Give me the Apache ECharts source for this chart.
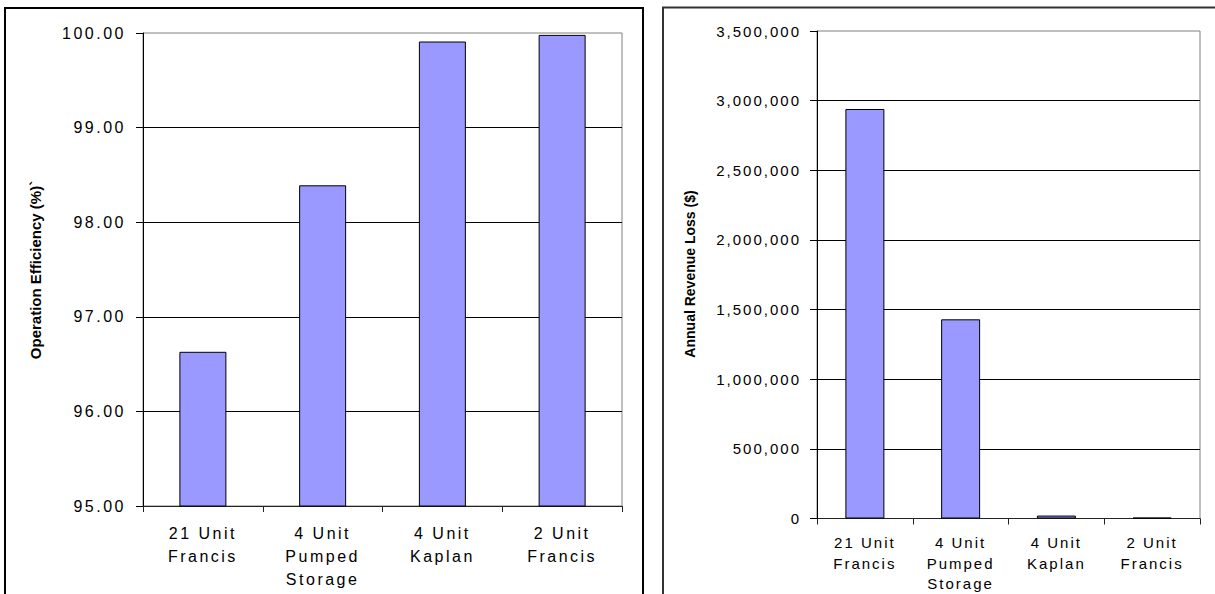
<!DOCTYPE html>
<html><head><meta charset="utf-8">
<script src="https://cdn.jsdelivr.net/npm/echarts@6/dist/echarts.min.js"></script>
<style>
html,body{margin:0;padding:0;background:#fff;}
#chart{width:1215px;height:594px;}
#chart svg text{letter-spacing:2.5px;}
#chart svg text[style*="15px"]{letter-spacing:2px;}
#chart svg text[style*="bold"]{letter-spacing:0;}
</style></head>
<body><div id="chart"></div>
<script>
// ---- data ----
const categories = ['21 Unit\nFrancis', '4 Unit\nPumped\nStorage', '4 Unit\nKaplan', '2 Unit\nFrancis'];
const efficiency = [96.63, 98.39, 99.91, 99.98];
const revenueLoss = [2940000, 1430000, 21000, 6000];
const efficiencyAxis = { min: 95, max: 100, interval: 1 };
const lossAxis = { min: 0, max: 3500000, interval: 500000 };
const efficiencyTitle = 'Operation Efficiency (%)`';
const lossTitle = 'Annual Revenue Loss ($)';

const FONT = "'Liberation Sans', Arial, sans-serif";
const chart = echarts.init(document.getElementById('chart'), null, { renderer: 'svg' });

function xAxisCfg(gridIndex, fontSize, lineHeight, margin) {
  return {
    type: 'category', gridIndex, data: categories,
    axisLine: { lineStyle: { color: '#222', width: 1 } },
    axisTick: { show: true, length: 6, lineStyle: { color: '#222' } },
    axisLabel: { color: '#000', fontFamily: FONT, fontSize, lineHeight, margin, interval: 0 },
    splitLine: { show: false }
  };
}
function yAxisCfg(gridIndex, ax, fontSize, margin, fmt) {
  return {
    type: 'value', gridIndex, min: ax.min, max: ax.max, interval: ax.interval,
    axisLine: { show: true, lineStyle: { color: '#000', width: 1 } },
    axisTick: { show: true, length: 7, lineStyle: { color: '#000' } },
    axisLabel: { color: '#000', fontFamily: FONT, fontSize, margin, formatter: fmt },
    splitLine: { show: true, showMinLine: false, showMaxLine: false, lineStyle: { color: '#000', width: 1 } }
  };
}

chart.setOption({
  animation: false,
  backgroundColor: '#fff',
  grid: [
    { left: 143, top: 33, width: 479, height: 473, show: true, borderColor: '#808080', borderWidth: 1, backgroundColor: 'transparent' },
    { left: 817, top: 31, width: 383, height: 488, show: true, borderColor: '#808080', borderWidth: 1, backgroundColor: 'transparent' }
  ],
  xAxis: [ xAxisCfg(0, 16, 23, 16), xAxisCfg(1, 15, 20.5, 14) ],
  yAxis: [
    yAxisCfg(0, efficiencyAxis, 16, 17, v => v.toFixed(2)),
    yAxisCfg(1, lossAxis, 15, 16, v => v.toLocaleString('en-US'))
  ],
  series: [
    { type: 'bar', xAxisIndex: 0, yAxisIndex: 0, data: efficiency, barWidth: 47,
      itemStyle: { color: '#9999FF', borderColor: '#000', borderWidth: 1 } },
    { type: 'bar', xAxisIndex: 1, yAxisIndex: 1, data: revenueLoss, barWidth: 39,
      itemStyle: { color: '#9999FF', borderColor: '#000', borderWidth: 1 } }
  ],
  graphic: [
    { type: 'rect', shape: { x: 5, y: 8, width: 638, height: 700 }, style: { fill: 'none', stroke: '#000', lineWidth: 2 }, silent: true },
    { type: 'rect', shape: { x: 663, y: 7.5, width: 700, height: 700 }, style: { fill: 'none', stroke: '#333', lineWidth: 2 }, silent: true },
    { type: 'text', x: 35, y: 270, rotation: Math.PI / 2,
      style: { text: efficiencyTitle, fill: '#000', font: "bold 15px 'Liberation Sans', Arial, sans-serif", textAlign: 'center', textVerticalAlign: 'middle' } },
    { type: 'text', x: 690, y: 274, rotation: Math.PI / 2,
      style: { text: lossTitle, fill: '#000', font: "bold 14px 'Liberation Sans', Arial, sans-serif", textAlign: 'center', textVerticalAlign: 'middle' } }
  ]
});
</script>
</body></html>
